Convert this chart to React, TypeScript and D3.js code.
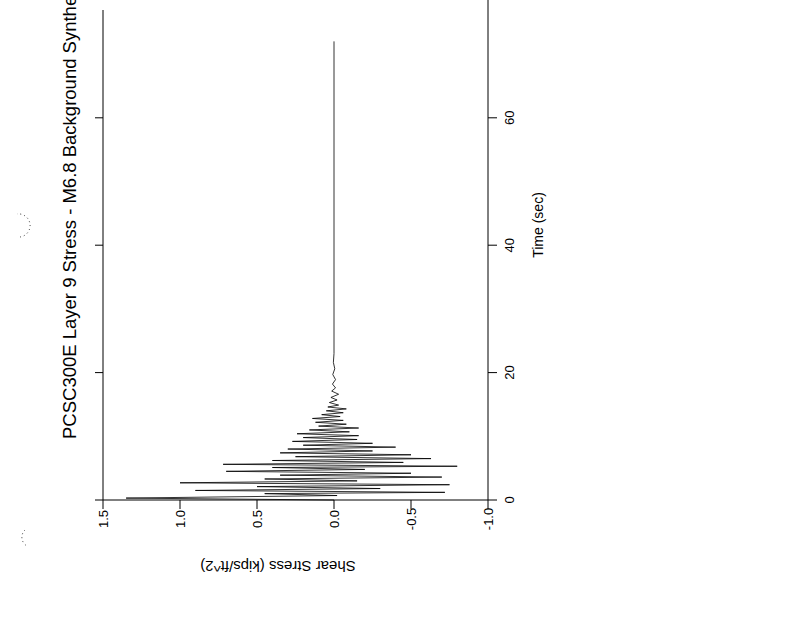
import React from "react";
import * as d3 from "d3";

// Time history (s) and shear stress (kips/ft^2)
const times = [0.0, 0.3, 0.7, 1.0, 1.2, 1.5, 1.8, 2.1, 2.4, 2.7, 3.0, 3.3, 3.6, 3.9, 4.2, 4.5, 4.8, 5.1, 5.3, 5.6, 5.9, 6.2, 6.5, 6.8, 7.1, 7.4, 7.7, 8.0, 8.3, 8.6, 8.9, 9.2, 9.5, 9.8, 10.1, 10.4, 10.7, 11.0, 11.3, 11.6, 11.9, 12.2, 12.5, 12.8, 13.1, 13.4, 13.7, 14.0, 14.3, 14.6, 14.9, 15.3, 15.7, 16.1, 16.6, 17.1, 17.6, 18.2, 18.9, 19.7, 20.6, 21.6, 23.0, 72.0];
const stress = [0.0, 1.35, -0.02, 0.45, -0.72, 0.9, -0.3, 0.5, -0.75, 1.0, -0.15, 0.45, -0.7, 0.35, -0.5, 0.7, -0.2, 0.4, -0.8, 0.72, -0.45, 0.4, -0.63, 0.25, -0.5, 0.35, -0.25, 0.3, -0.4, 0.2, -0.25, 0.27, -0.15, 0.2, -0.16, 0.24, -0.1, 0.16, -0.16, 0.1, -0.08, 0.12, -0.06, 0.14, -0.04, 0.08, -0.06, 0.05, -0.08, 0.04, -0.03, 0.03, -0.02, 0.02, -0.03, 0.015, -0.01, 0.01, -0.01, 0.008, -0.005, 0.004, 0.0, 0.0];

const timeTicks = [0, 20, 40, 60];
const stressTicks = [1.5, 1.0, 0.5, 0.0, -0.5, -1.0];

const title = "PCSC300E Layer 9 Stress - M6.8 Background Synthetic";
const xTitle = "Time (sec)";
const yTitle = "Shear Stress (kips/ft^2)";

export default function App() {
  const yT = d3.scaleLinear().domain([0, 80]).range([500, 500 - 80 * 6.37]);
  const xS = d3.scaleLinear().domain([-1.0, 1.5]).range([488, 103]);
  const data = times.map((t, i) => [t, stress[i]] as [number, number]);
  const line = d3
    .line<[number, number]>()
    .x((d) => xS(d[1]))
    .y((d) => yT(d[0]));
  const font = "'Liberation Sans', Arial, sans-serif";
  const axX = xS(-1.0);
  const topY = yT(80);
  return (
    <svg
      width={800}
      height={618}
      style={{ position: "absolute", left: 0, top: 0, background: "#fff" }}
      fontFamily={font}
    >
      <rect x={0} y={0} width={800} height={618} fill="#fff" />
      {/* hole punch marks */}
      <path d="M 30 213 A 11 11 0 0 0 33 236" transform="rotate(180 25 225)" fill="none" stroke="#000" strokeWidth={0.8} strokeDasharray="1 3" />
      <path d="M 25 530 A 10 10 0 0 0 27 546" fill="none" stroke="#000" strokeWidth={0.8} strokeDasharray="1 3" />
      {/* frame line (original top) */}
      <line x1={xS(1.5)} x2={xS(1.5)} y1={yT(0)} y2={10} stroke="#000" strokeWidth={1} />
      {/* time axis */}
      <line x1={axX} x2={axX} y1={yT(0)} y2={topY} stroke="#000" strokeWidth={1} />
      {timeTicks.map((t) => (
        <g key={"tt" + t}>
          <line x1={axX} x2={axX + 9} y1={yT(t)} y2={yT(t)} stroke="#000" />
          <line x1={xS(1.5)} x2={xS(1.5) - 8} y1={yT(t)} y2={yT(t)} stroke="#000" />
          <text
            transform={`translate(${axX + 25.5},${yT(t)}) rotate(-90)`}
            textAnchor="middle"
            fontSize={13}
          >
            {t}
          </text>
        </g>
      ))}
      <text transform={`translate(542.5,225) rotate(-90)`} textAnchor="middle" fontSize={14}>
        {xTitle}
      </text>
      {/* stress axis */}
      <line x1={xS(1.5)} x2={xS(-1.0)} y1={yT(0)} y2={yT(0)} stroke="#000" />
      {stressTicks.map((s) => (
        <g key={"st" + s}>
          <line x1={xS(s)} x2={xS(s)} y1={yT(0)} y2={yT(0) + 9} stroke="#000" />
          <text
            transform={`translate(${xS(s) + 5},519) rotate(-90)`}
            textAnchor="middle"
            fontSize={13}
          >
            {s.toFixed(1)}
          </text>
        </g>
      ))}
      <text transform={`translate(278,566) rotate(180)`} textAnchor="middle" dy="0.35em" fontSize={15}>
        {yTitle}
      </text>
      {/* title */}
      <text transform={`translate(75.5,439) rotate(-90)`} textAnchor="start" fontSize={18.5}>
        {title}
      </text>
      {/* data trace */}
      <path d={line(data) || ""} fill="none" stroke="#000" strokeWidth={0.8} />
    </svg>
  );
}
